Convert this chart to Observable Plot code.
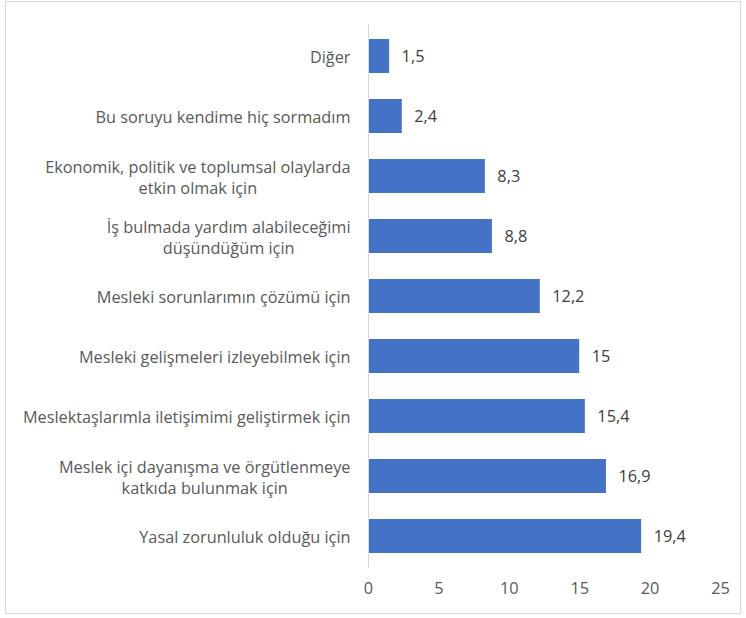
<!DOCTYPE html>
<html>
<head>
<meta charset="utf-8">
<script src="https://cdn.jsdelivr.net/npm/d3@7"></script>
<script src="https://cdn.jsdelivr.net/npm/@observablehq/plot@0.6"></script>
<style>
  html, body { margin: 0; padding: 0; background: #fff; }
  #wrap { position: relative; width: 746px; height: 618px; }
  #frame { position: absolute; left: 5px; top: 1px; width: 736px; height: 613px; border: 1px solid #d9d9d9; box-sizing: border-box; }
  #chart { position: absolute; left: 0; top: 0; }
</style>
</head>
<body>
<div id="wrap"><div id="frame"></div><div id="chart"></div></div>
<script>
const categories = [
  "Diğer",
  "Bu soruyu kendime hiç sormadım",
  "Ekonomik, politik ve toplumsal olaylarda\netkin olmak için",
  "İş bulmada yardım alabileceğimi\ndüşündüğüm için",
  "Mesleki sorunlarımın çözümü için",
  "Mesleki gelişmeleri izleyebilmek için",
  "Meslektaşlarımla iletişimimi geliştirmek için",
  "Meslek içi dayanışma ve örgütlenmeye\nkatkıda bulunmak için",
  "Yasal zorunluluk olduğu için"
];
const values = [1.5, 2.4, 8.3, 8.8, 12.2, 15, 15.4, 16.9, 19.4];
const xTicks = [0, 5, 10, 15, 20, 25];

const data = categories.map((c, i) => ({category: c, value: values[i]}));
const fmt = v => String(v).replace(".", ",");
const FONT = "'Open Sans', sans-serif";
const FS = 16.3;

const chart = Plot.plot({
  width: 746,
  height: 618,
  marginLeft: 368,
  marginRight: 26,
  marginTop: 24,
  marginBottom: 50,
  style: {fontFamily: FONT, fontSize: FS + "px", color: "#595959", background: "transparent"},
  x: {domain: [0, 25], ticks: xTicks, label: null},
  y: {domain: categories, paddingInner: 0.44, paddingOuter: 0.22, label: null},
  marks: [
    Plot.axisX({ticks: xTicks, tickSize: 0, tickPadding: 14, label: null, fontSize: FS, fill: "#595959"}),
    Plot.axisY({tickSize: 0, tickPadding: 18, label: null, fontSize: FS, fill: "#595959", lineHeight: 1.3, textOverflow: null}),
    Plot.barX(data, {x: "value", y: "category", fill: "#4472c4"}),
    Plot.ruleX([0], {stroke: "#d9d9d9", strokeWidth: 1}),
    Plot.text(data, {x: "value", y: "category", text: d => fmt(d.value), textAnchor: "start", dx: 12, fontSize: FS, fill: "#404040"})
  ]
});
document.getElementById("chart").appendChild(chart);

// center multi-line category labels on their widest line, keeping the right edge
chart.querySelectorAll("g[aria-label='y-axis tick label'] text").forEach(t => {
  const spans = t.querySelectorAll("tspan");
  if (spans.length > 1) {
    let w = 0;
    spans.forEach(s => { w = Math.max(w, s.getComputedTextLength()); });
    t.setAttribute("text-anchor", "middle");
    const tr = t.getAttribute("transform") || "";
    t.setAttribute("transform", tr + ` translate(${-w / 2},0)`);
  }
});
</script>
</body>
</html>
